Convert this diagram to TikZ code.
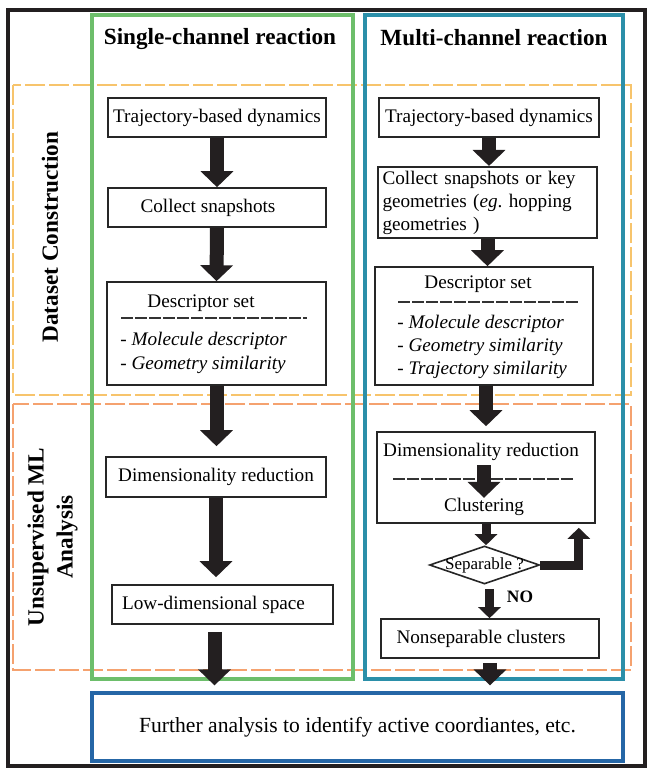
\documentclass[tikz,border=0pt]{standalone}
\usepackage{fontspec}
\setmainfont{Liberation Serif}
\usetikzlibrary{shapes.geometric, positioning, arrows.meta}

\definecolor{lanegreen}{HTML}{6DBE6B}
\definecolor{laneteal}{HTML}{2B8FA9}
\definecolor{phaseyellow}{HTML}{F7C46C}
\definecolor{phaseorange}{HTML}{F5A26F}
\definecolor{endblue}{HTML}{2566A6}
\definecolor{arrowblack}{HTML}{231F20}

\newcommand{\bodyfont}{\fontsize{9.6}{11.5}\selectfont}
\newcommand{\headfont}{\bfseries\fontsize{11.6}{14.5}\selectfont}

\begin{document}
\begin{tikzpicture}[
    x=0.5pt, y=-0.5pt,
    box/.style={draw=black!85, line width=0.8pt, fill=white, inner sep=1pt, align=center, font=\bodyfont},
    txt/.style={inner sep=0pt, font=\bodyfont},
    head/.style={font=\headfont},
    lane/.style={draw=#1, line width=2pt},
    phase/.style={draw=#1, line width=1pt, dash pattern=on 10pt off 2pt},
    sepline/.style={draw=black!80, line width=0.7pt, dash pattern=on 6pt off 1pt},
    decision/.style={draw=black!85, line width=0.8pt, diamond, fill=white, inner sep=0pt, minimum width=55pt, minimum height=19pt},
    flow/.style={draw=arrowblack, line width=7pt, -{Triangle[width=16pt, length=8pt]}},
    flowthin/.style={draw=arrowblack, line width=4.5pt, line join=miter, -{Triangle[width=11pt, length=5.5pt]}}
]
    \useasboundingbox (0,0) rectangle (652,770);

    % Frames
    \draw[line width=2pt, arrowblack] (8,10) rectangle (645,766);
    \draw[phase=phaseyellow] (13,85) rectangle (631,395);
    \draw[phase=phaseorange] (13,404) rectangle (631,670);
    \draw[lane=lanegreen] (92,15.5) rectangle (353,679);
    \draw[lane=laneteal] (365,15.5) rectangle (623,679);

    % Headers
    \node[head] (single) at (220,39) {Single-channel reaction};
    \node[head] (multi) at (494,38) {Multi-channel reaction};
    \node[head, rotate=90] (dataset) at (50,237) {Dataset Construction};
    \node[head, rotate=90, align=center] (unsup) at (52.5,537) {Unsupervised ML\\Analysis};

    % Single-channel nodes
    \node[box, minimum width=109pt, minimum height=19.5pt] (trajL) at (217,117.5) {Trajectory-based dynamics};
    \node[box, minimum width=109pt, minimum height=19.5pt] (collL) at (217,207.5) {\hspace*{-9pt}Collect snapshots};
    \node[box, minimum width=109.5pt, minimum height=51.5pt] (descL) at (216.5,333.5) {};
    \node[txt] (descLhead) at (201,303) {Descriptor set};
    \node[txt, anchor=west, align=left, font=\fontsize{9.6}{12}\selectfont] (descLitems) at (120,353) {- \textit{Molecule descriptor}\\- \textit{Geometry similarity}};
    \draw[sepline] (121,318) -- (307,318);
    \node[box, minimum width=110pt, minimum height=20pt] (dimL) at (216,477) {Dimensionality reduction};
    \node[box, minimum width=110.5pt, minimum height=19.5pt] (lowL) at (222.5,604.5) {\hspace*{-9pt}Low-dimensional space};

    % Multi-channel nodes
    \node[box, minimum width=110pt, minimum height=19.5pt] (trajR) at (489,117.5) {Trajectory-based dynamics};
    \node[box, minimum width=109.5pt, minimum height=34.5pt, text width=105pt, align=left, inner sep=2pt] (collR) at (487.5,202.5) {Collect snapshots or key\\geometries (\textit{eg}.\ hopping\\geometries )};
    \node[box, minimum width=109pt, minimum height=59pt] (descR) at (484,326) {};
    \node[txt] (descRhead) at (478,284) {Descriptor set};
    \node[txt, anchor=west, align=left] (descRitems) at (397,347) {- \textit{Molecule descriptor}\\- \textit{Geometry similarity}\\- \textit{Trajectory similarity}};
    \draw[sepline] (398,302) -- (578,302);
    \node[box, minimum width=109pt, minimum height=45.5pt] (dimR) at (486,477.5) {};
    \node[txt] (dimRtext) at (481,452) {Dimensionality reduction};
    \node[txt] (clusR) at (484,507) {Clustering};
    \draw[sepline] (393,479) -- (573,479);
    \node[decision, label={[font=\fontsize{8.5}{9}\selectfont]center:Separable ?}] (sep) at (484.5,565) {};
    \node[font=\bfseries\fontsize{8.7}{10}\selectfont] (no) at (520,597) {NO};
    \node[box, minimum width=109pt, minimum height=19.5pt] (nonsep) at (490,638.5) {\hspace*{-9pt}Nonseparable clusters};

    % Common end
    \node[box, draw=endblue, line width=1.6pt, minimum width=265.5pt, minimum height=34pt, font=\fontsize{10.8}{13}\selectfont] (further) at (357.5,727) {Further analysis to identify active coordiantes, etc.};

    % Connections
    \draw[flow] (trajL.south) -- (collL.north);
    \draw[flow] (collL.south) -- (descL.north);
    \draw[flow, shorten >=5pt] (descL.south) -- (descL.south |- dimL.north);
    \draw[flow, shorten >=3.5pt] (dimL.south) -- (dimL.south |- lowL.north);
    \draw[flow, shorten <=3.5pt, shorten >=3pt] ([xshift=-4pt]lowL.south) -- ([xshift=-4pt]lowL.south |- further.north);

    \draw[flow] (trajR.south) -- (trajR.south |- collR.north);
    \draw[flow] (collR.south) -- (collR.south |- descR.north);
    \draw[flow, shorten >=2.5pt] (descR.south -| dimR.north) -- (dimR.north);
    \draw[flow, shorten <=2pt] (clusR.north |- dimRtext.south) -- (clusR.north);
    \draw[flowthin] (dimR.south) -- (dimR.south |- sep.north);
    \draw[flowthin] (sep.east) -| ([xshift=-8.5pt, yshift=-2pt]dimR.south east);
    \draw[flowthin, shorten <=2pt] ([xshift=2.5pt]sep.south) -- ([xshift=2.5pt]sep.south |- nonsep.north);
    \draw[flow, shorten <=2pt, shorten >=3pt] (nonsep.south) -- (nonsep.south |- further.north);
\end{tikzpicture}
\end{document}
